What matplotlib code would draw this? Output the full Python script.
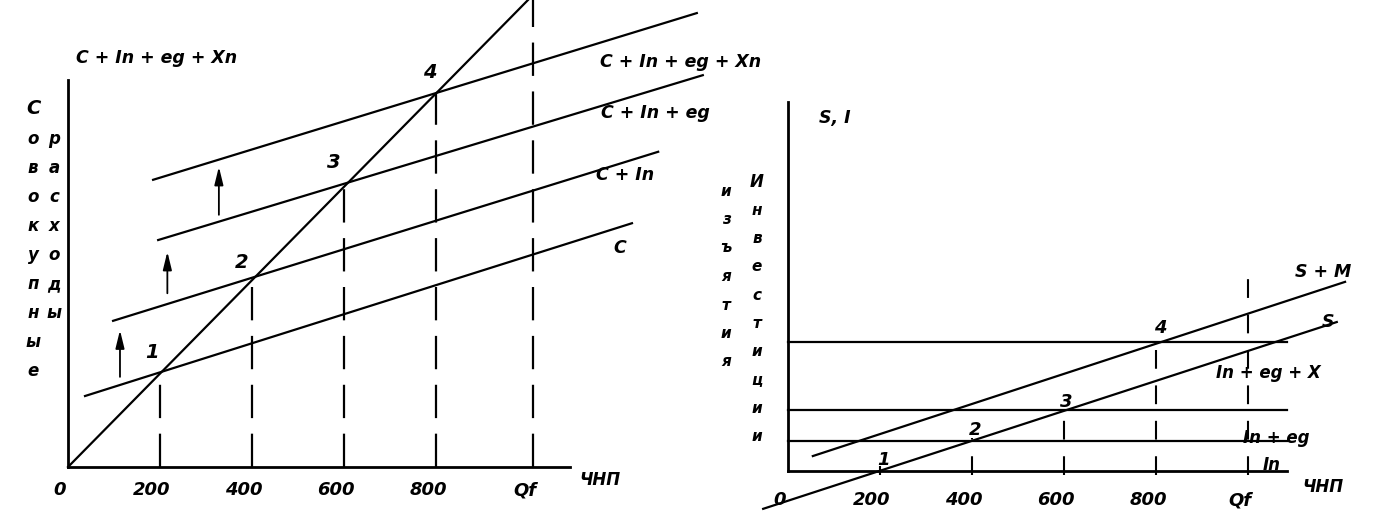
import matplotlib
matplotlib.use("Agg")
import matplotlib.pyplot as plt

plt.rcParams['font.family'] = ['DejaVu Sans']

# ---------------- data: left panel (aggregate expenditure) ----------------
L_TICKS = [0, 200, 400, 600, 800, 1010]
L_TICKLABELS = ["0", "200", "400", "600", "800", "Qf"]
DIAG_X = [0, 1000]
DIAG_Y = [0, 1000]
L_LINE_NAMES = ["C", "C + In", "C + In + eg", "C + In + eg + Xn"]
L_LINE_X = [[37, 1226], [98, 1283], [196, 1380], [185, 1367]]
L_LINE_Y = [[152, 522], [313, 675], [486, 839], [615, 972]]
L_EQ_X = [200, 400, 600, 800]
L_EQ_Y = [203, 405, 606, 801]
L_EQ_NAMES = ["1", "2", "3", "4"]
L_QF_TOP = 1000
ARROW_X = [113, 216, 328]
ARROW_Y0 = [193, 372, 540]
ARROW_Y1 = [293, 461, 643]

# ---------------- data: right panel (withdrawals / injections) ----------------
R_TICKS = [0, 200, 400, 600, 800, 1000]
R_TICKLABELS = ["0", "200", "400", "600", "800", "Qf"]
R_LEVELS = [65, 131, 276]
R_LEVEL_END = 1085
S_X = [-54, 1193]
S_Y = [-81, 319]
SM_X = [54, 1211]
SM_Y = [32, 405]
R_EQ_X = [200, 400, 600, 800]
R_EQ_Y = [0, 70, 137, 283]
R_EQ_NAMES = ["1", "2", "3", "4"]
R_QF_TOP = 417

# ---------------- layout ----------------
W, H = 1387, 528
fig = plt.figure(figsize=(W / 100, H / 100), dpi=100)
SX, SY = 0.46, 0.467          # pixels per unit

# left axes: origin at (68, 467) px
LX0, LY0 = 68, 467
axL = fig.add_axes([LX0 / W, (H - LY0) / H, 502 / W, 387 / H])
axL.set_xlim(0, 502 / SX)
axL.set_ylim(0, 387 / SY)
# right axes: origin at (788, 471) px
RX0, RY0 = 788, 471
axR = fig.add_axes([RX0 / W, (H - RY0) / H, 499 / W, 369 / H])
axR.set_xlim(0, 499 / SX)
axR.set_ylim(0, 369 / SY)

for ax in (axL, axR):
    ax.patch.set_alpha(0)
    for s in ("top", "right"):
        ax.spines[s].set_visible(False)
    for s in ("left", "bottom"):
        ax.spines[s].set_linewidth(2.0)
        ax.spines[s].set_color("black")
    ax.set_xticks([])
    ax.set_yticks([])

LW = 1.6
TXT = dict(fontweight="bold", fontstyle="italic", color="black",
           ha="center", va="center", clip_on=False)


def lpos(px, py):
    return (px - LX0) / SX, (LY0 - py) / SY


def rpos(px, py):
    return (px - RX0) / SX, (RY0 - py) / SY


# ---- left panel marks ----
axL.plot(DIAG_X, DIAG_Y, color="black", lw=LW, clip_on=False)
for xs, ys in zip(L_LINE_X, L_LINE_Y):
    axL.plot(xs, ys, color="black", lw=LW, clip_on=False)
for x, y in zip(L_EQ_X, L_EQ_Y):
    axL.plot([x, x], [0, y], color="black", lw=1.6,
             linestyle=(0, (15, 7)), clip_on=False)
axL.plot([L_TICKS[-1], L_TICKS[-1]], [0, L_QF_TOP], color="black", lw=1.6,
         linestyle=(0, (15, 7)), clip_on=False)
for x, y0, y1 in zip(ARROW_X, ARROW_Y0, ARROW_Y1):
    axL.annotate("", xy=(x, y1), xytext=(x, y0),
                 arrowprops=dict(arrowstyle="-|>,head_length=0.9,head_width=0.22",
                                 color="black", lw=1.3, mutation_scale=12,
                                 shrinkA=0, shrinkB=0), annotation_clip=False)

# left text
for v, t in zip(L_TICKS, L_TICKLABELS):
    axL.text(v - 8 / SX, -23 / SY, t, fontsize=13, **TXT)
axL.text(*lpos(600, 480), "ЧНП", fontsize=12, **TXT)
for name, xs, ys, (px, py) in zip(L_LINE_NAMES, L_LINE_X, L_LINE_Y,
                                  [(620, 248), (625, 175), (655, 113), (681, 62)]):
    axL.text(*lpos(px, py), name, fontsize=12.5, **TXT)
axL.text(*lpos(157, 58), "C + In + eg + Xn", fontsize=12.5, **TXT)
for t, (px, py) in zip(L_EQ_NAMES, [(152, 353), (242, 262), (334, 163), (430, 73)]):
    axL.text(*lpos(px, py), t, fontsize=14, **TXT)
# vertical axis caption "Совокупные расходы"
axL.text(*lpos(33, 108), "C", fontsize=14, **TXT)
for i, ch in enumerate("овокупные"):
    axL.text(*lpos(33, 139 + 29 * i), ch, fontsize=12, **TXT)
for i, ch in enumerate("расходы"):
    axL.text(*lpos(54, 139 + 29 * i), ch, fontsize=12, **TXT)

# ---- right panel marks ----
for lev in R_LEVELS:
    axR.plot([0, R_LEVEL_END], [lev, lev], color="black", lw=LW, clip_on=False)
axR.plot(S_X, S_Y, color="black", lw=LW, clip_on=False)
axR.plot(SM_X, SM_Y, color="black", lw=LW, clip_on=False)
for x, y in zip(R_EQ_X, R_EQ_Y):
    axR.plot([x, x], [-8, max(y, 10)], color="black", lw=1.5,
             linestyle=(0, (9, 8)), clip_on=False)
axR.plot([R_TICKS[-1], R_TICKS[-1]], [-8, R_QF_TOP], color="black", lw=1.5,
         linestyle=(0, (9, 8)), clip_on=False)

# right text
for v, t in zip(R_TICKS, R_TICKLABELS):
    axR.text(v - 8 / SX, -29 / SY, t, fontsize=13, **TXT)
axR.text(*rpos(1323, 487), "ЧНП", fontsize=12, **TXT)
axR.text(*rpos(835, 118), "S, I", fontsize=12.5, **TXT)
axR.text(*rpos(1323, 272), "S + M", fontsize=12.5, **TXT)
axR.text(*rpos(1328, 322), "S", fontsize=12.5, **TXT)
axR.text(*rpos(1268, 373), "In + eg + X", fontsize=12, **TXT)
axR.text(*rpos(1276, 438), "In + eg", fontsize=12, **TXT)
axR.text(*rpos(1272, 465), "In", fontsize=12, **TXT)
for t, (px, py) in zip(R_EQ_NAMES, [(883, 460), (975, 430), (1066, 402), (1160, 328)]):
    axR.text(*rpos(px, py), t, fontsize=13, **TXT)
for i, ch in enumerate("изъятия"):
    axR.text(*rpos(726, 191 + 28.5 * i), ch, fontsize=11, **TXT)
for i, ch in enumerate("Инвестиции"):
    axR.text(*rpos(757, 182 + 28.3 * i), ch, fontsize=12 if i == 0 else 11, **TXT)

fig.savefig("out.png", dpi=100, facecolor="white")
